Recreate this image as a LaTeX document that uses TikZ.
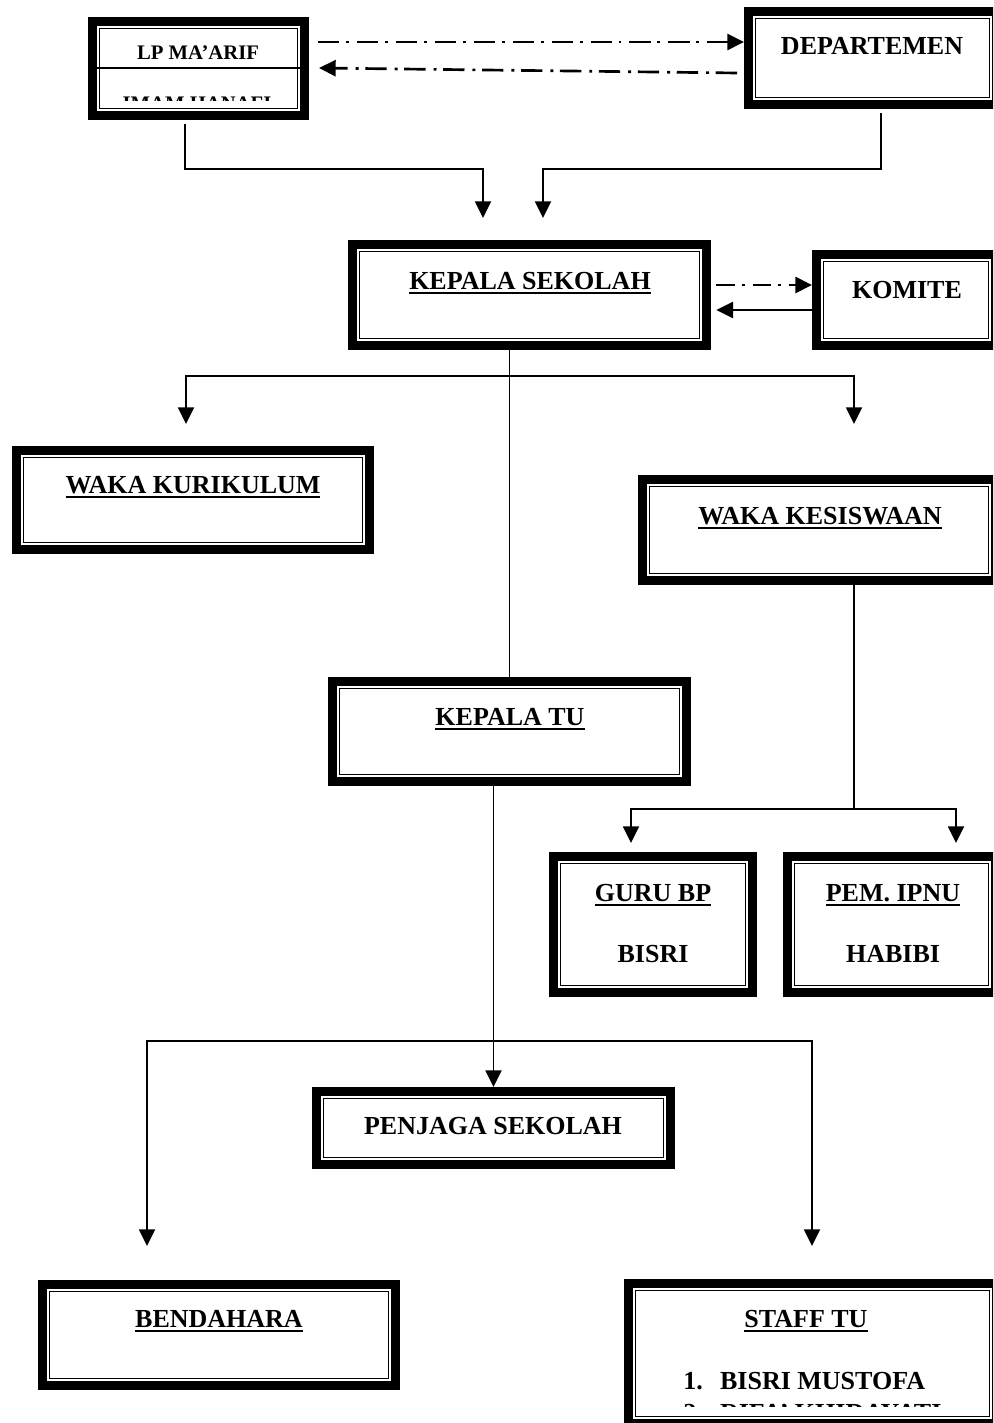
\documentclass[tikz,border=0pt]{standalone}
\usepackage{fontspec}
\setmainfont{Liberation Serif}
\usetikzlibrary{arrows.meta}
\newcommand\myul[1]{\begingroup\setbox0\hbox{#1}\leavevmode\rlap{\rule[-3.6pt]{\wd0}{1.3pt}}\box0\endgroup}
\tikzset{
  obox/.style={rectangle, draw=black, line width=6.5pt, outer sep=3.25pt, inner sep=0pt},
  inline/.style={draw=black, line width=1.4pt},
  lbl/.style={inner sep=0pt, anchor=base, font=\fontsize{19.5pt}{23pt}\selectfont\bfseries},
  slbl/.style={inner sep=0pt, anchor=base, font=\fontsize{15.5pt}{18pt}\selectfont\bfseries},
  conn/.style={draw=black, line width=1.4pt},
  thinconn/.style={draw=black, line width=0.9pt},
  ddline/.style={draw=black, line width=2pt, dash pattern=on 16pt off 5pt on 2.2pt off 6pt},
  tip/.tip={Triangle[length=12.5pt,width=12pt]},
  arr/.style={-tip},
  arrboth/.style={tip-tip}
}
\newcommand\orgbox[5]{%
  \node[obox, minimum width={(#4-#2-8.67)*0.75pt}, minimum height={(#5-#3-8.67)*0.75pt}] (#1) at ({(#2+#4)/2},{(#3+#5)/2}) {};
  \draw[inline] ([shift={(8.6pt,-8.6pt)}]#1.north west) rectangle ([shift={(-8.6pt,8.6pt)}]#1.south east);}
\begin{document}
\begin{tikzpicture}[x=0.75pt,y=-0.75pt]
\clip (0,0) rectangle (993,1423);
\fill[white] (0,0) rectangle (993,1423);

% boxes
\orgbox{lp}{88}{17}{309}{120}
\orgbox{dep}{744}{7}{1001}{109}
\orgbox{ks}{348}{240}{711}{350}
\orgbox{kom}{812}{250}{1000}{350}
\orgbox{wk}{12}{446}{374}{554}
\orgbox{wks}{638}{475}{1000}{585}
\orgbox{ktu}{328}{677}{691}{786}
\orgbox{gbp}{549}{852}{757}{997}
\orgbox{ipnu}{783}{852}{1000}{997}
\orgbox{pj}{312}{1087}{675}{1169}
\orgbox{bend}{38}{1280}{400}{1390}
\orgbox{staff}{624}{1279}{1001}{1428}

% LP MA'ARIF line and texts
\draw[line width=1.2pt] (lp.west |- 0,68) -- (lp.east |- 0,68);
\node[slbl] (tlp) at (198,60) {LP MA’ARIF};
\begin{scope}
\clip (92,90) rectangle (305,100.5);
\node[slbl] (tlp2) at (197,111) {IMAM HANAFI};
\end{scope}

% texts
\node[lbl] (tdep) at (872,55) {DEPARTEMEN};
\node[lbl] (tks) at (530,289) {\myul{KEPALA SEKOLAH}};
\node[lbl] (tkom) at (907,298) {KOMITE};
\node[lbl] (twk) at (193,493) {\myul{WAKA KURIKULUM}};
\node[lbl] (twks) at (820,524) {\myul{WAKA KESISWAAN}};
\node[lbl] (tktu) at (510,725) {\myul{KEPALA TU}};
\node[lbl] (tgbp) at (653,901) {\myul{GURU BP}};
\node[lbl] (tgbp2) at (653,962) {BISRI};
\node[lbl] (tipnu) at (893,901) {\myul{PEM. IPNU}};
\node[lbl] (tipnu2) at (893,962) {HABIBI};
\node[lbl] (tpj) at (493,1134) {PENJAGA SEKOLAH};
\node[lbl] (tbend) at (219,1327) {\myul{BENDAHARA}};
\node[lbl] (tstaff) at (806,1327) {\myul{STAFF TU}};
\node[lbl, anchor=base west] (tstaff1) at (683,1389) {1.\hspace{13pt}BISRI MUSTOFA};
\begin{scope}
\clip (630,1395) rectangle (990,1406);
\node[lbl, anchor=base west] (tstaff2) at (683,1421) {2.\hspace{13pt}RIFA’ KHIDAYATI};
\end{scope}

% connectors top
\coordinate (da) at (0,42);
\coordinate (db1) at (0,73);
\coordinate (db2) at (0,68);
\draw[ddline, arr] ([xshift=6.75pt]lp.east |- da) -- (dep.west |- da);
\draw[ddline, arr] ([xshift=-5.25pt]dep.west |- db1) -- ([xshift=7.5pt]lp.east |- db2);

\coordinate (lpj) at (185,169);
\coordinate (lpe) at (483,218);
\draw[conn, arr] ([yshift=-3pt]lp.south -| lpj) -- (lpj) -| (lpe);
\coordinate (depj) at (881,169);
\coordinate (depe) at (543,218);
\draw[conn, arr] ([yshift=-3pt]dep.south -| depj) -- (depj) -| (depe);

% kepala sekolah - komite
\coordinate (k1) at (0,285);
\coordinate (k2) at (0,310);
\draw[ddline, arr, dash pattern=on 14pt off 5pt on 2.2pt off 6pt] ([xshift=4pt]ks.east |- k1) -- (kom.west |- k1);
\draw[conn, line width=1.7pt, arr] (kom.west |- k2) -- ([xshift=4pt]ks.east |- k2);

% kepala sekolah - kepala tu
\draw[thinconn] (ktu.north |- ks.south) -- (ktu.north);

% branch to waka
\coordinate (b1le) at (186,424);
\coordinate (b1r) at (854,376);
\coordinate (b1re) at (854,424);
\draw[conn, line width=1.2pt, arrboth] (b1le) |- (b1r) -- (b1re);

% waka kesiswaan branch
\coordinate (b2c) at (854,809);
\coordinate (b2l) at (631,843);
\coordinate (b2r) at (956,843);
\draw[conn] (wks.south -| b2c) -- (b2c);
\draw[conn, arrboth] (b2l) |- (b2c) -| (b2r);

% kepala tu branch
\draw[conn, arr] (pj.north |- ktu.south) -- (pj.north);
\coordinate (b3l) at (147,1246);
\coordinate (b3r) at (812,1041);
\coordinate (b3re) at (812,1246);
\draw[conn, arrboth] (b3l) |- (b3r) -- (b3re);
\end{tikzpicture}
\end{document}
